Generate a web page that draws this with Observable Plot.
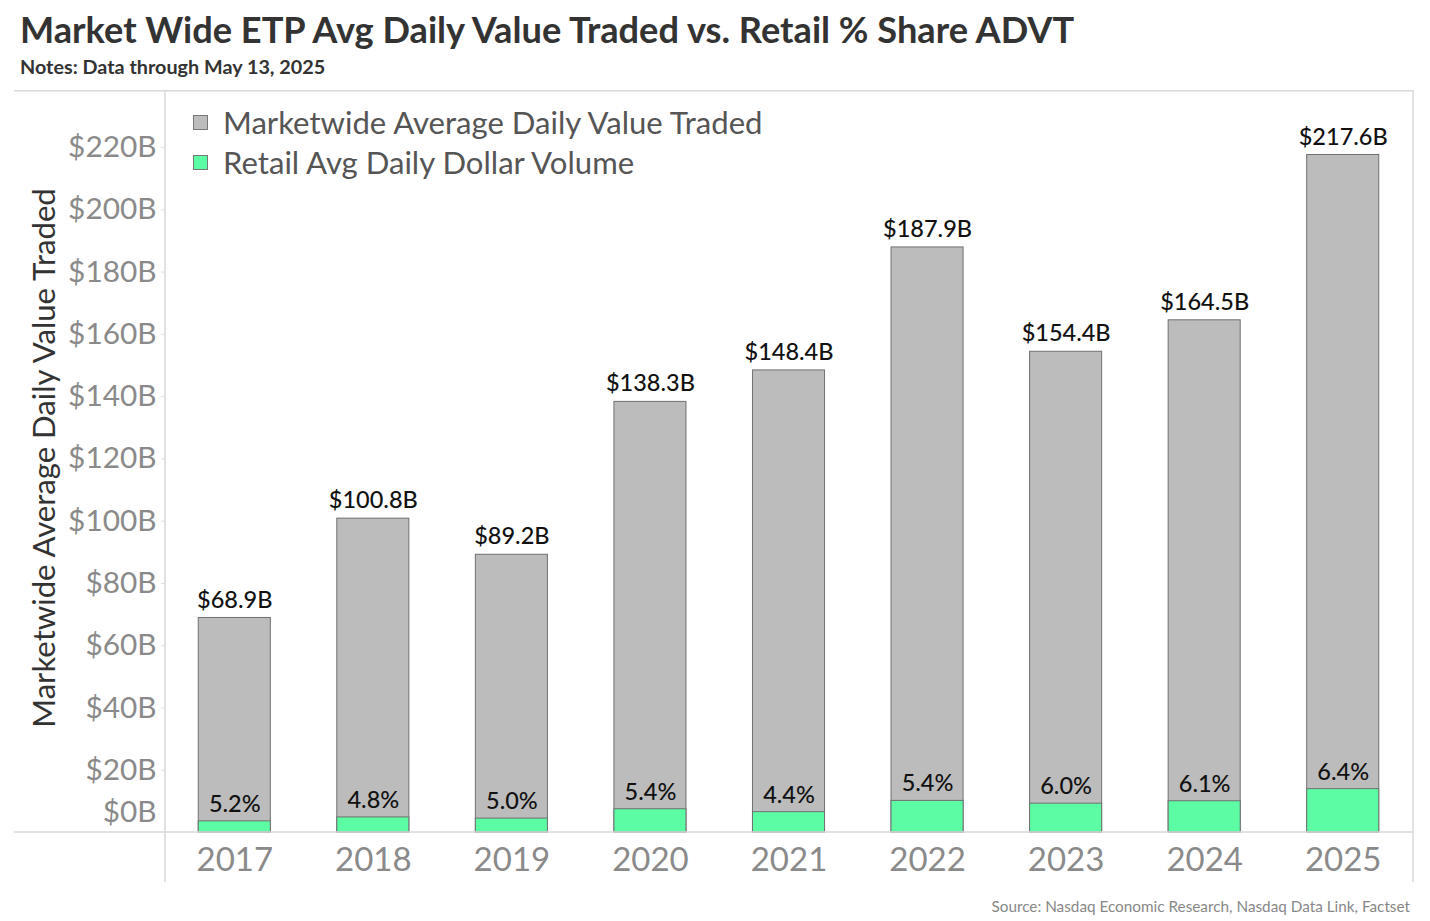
<!DOCTYPE html>
<html>
<head>
<meta charset="utf-8">
<script src="https://cdn.jsdelivr.net/npm/d3@7"></script>
<script src="https://cdn.jsdelivr.net/npm/@observablehq/plot@0.6"></script>
<style>
  body { margin: 0; background: #fff; font-family: Lato, sans-serif; }
  #wrap { position: relative; width: 1430px; height: 921px; overflow: hidden; }
  #title { position: absolute; left: 20px; top: 7px; font: bold 36.2px Lato, sans-serif; color: #333; white-space: nowrap; }
  #sub { position: absolute; left: 20px; top: 54px; font: bold 19.8px Lato, sans-serif; color: #333; white-space: nowrap; }
  #chart { position: absolute; left: 0; top: 90px; }
  .leg { position: absolute; left: 193px; font: 31.1px Lato, sans-serif; color: #555; white-space: nowrap; display: flex; align-items: center; }
  .sw { width: 13px; height: 13px; border: 1px solid #777; margin-right: 15px; }
  #src { position: absolute; right: 20px; top: 897px; font: 15.3px Lato, sans-serif; color: #888; }
</style>
</head>
<body>
<div id="wrap">
  <div id="title">Market Wide ETP Avg Daily Value Traded vs. Retail % Share ADVT</div>
  <div id="sub">Notes: Data through May 13, 2025</div>
  <div id="chart"></div>
  <div class="leg" style="top:103px"><div class="sw" style="background:#bcbcbc"></div>Marketwide Average Daily Value Traded</div>
  <div class="leg" style="top:143px"><div class="sw" style="background:#5cfca4"></div>Retail Avg Daily Dollar Volume</div>
  <div id="src">Source: Nasdaq Economic Research, Nasdaq Data Link, Factset</div>
</div>
<script>
const years = ["2017","2018","2019","2020","2021","2022","2023","2024","2025"];
const totals = [68.9, 100.8, 89.2, 138.3, 148.4, 187.9, 154.4, 164.5, 217.6];
const shares = [5.2, 4.8, 5.0, 5.4, 4.4, 5.4, 6.0, 6.1, 6.4];
const yTicks = [0, 20, 40, 60, 80, 100, 120, 140, 160, 180, 200, 220];

const data = years.map((year, i) => ({
  year, total: totals[i], share: shares[i], retail: totals[i] * shares[i] / 100
}));

const W = 1430, H = 831;
const plot = Plot.plot({
  width: W, height: H,
  marginLeft: 165, marginRight: 18, marginTop: 57, marginBottom: 89,
  style: { fontFamily: "Lato, sans-serif", background: "transparent", overflow: "visible" },
  x: { type: "band", domain: years, paddingInner: 0.48, paddingOuter: 0.24, round: false, axis: null },
  y: { domain: [0, 220], axis: null },
  marks: [
    Plot.barY(data, { x: "year", y: "total", fill: "#bcbcbc", stroke: "#707070", strokeWidth: 1 }),
    Plot.barY(data, { x: "year", y: "retail", fill: "#5cfca4", stroke: "#707070", strokeWidth: 1 }),
    Plot.text(data, { x: "year", y: "total", text: d => `$${d.total.toFixed(1)}B`, dy: -18, fontSize: 23.5, fontWeight: 500, fill: "#111", lineAnchor: "middle" }),
    Plot.text(data, { x: "year", y: "retail", text: d => `${d.share.toFixed(1)}%`, dy: -17, fontSize: 23.5, fontWeight: 500, fill: "#111", lineAnchor: "middle" }),
    Plot.axisY({ ticks: yTicks.filter(t => t > 0), tickFormat: d => `$${d}B`, tickSize: 4, tickPadding: 5, fontSize: 29.8, fill: "#8a8a8a", stroke: "#e0e0e0", label: null }),
    Plot.axisY({ ticks: [0], tickFormat: d => `$${d}B`, tickSize: 0, tickPadding: 9, dy: -20, fontSize: 29.8, fill: "#8a8a8a", label: null }),
    Plot.axisX({ tickSize: 0, tickPadding: 15, fontSize: 33, fill: "#8a8a8a", label: null })
  ]
});
document.getElementById("chart").appendChild(plot);

// frame / decoration lines
const svg = d3.select(plot);
const g = svg.append("g").attr("stroke", "#d9d9d9").attr("stroke-width", 1.5);
g.append("line").attr("x1", 14).attr("x2", 1413).attr("y1", 0.75).attr("y2", 0.75);
g.append("line").attr("x1", 165).attr("x2", 165).attr("y1", 0).attr("y2", 792);
g.append("line").attr("x1", 1413).attr("x2", 1413).attr("y1", 0).attr("y2", 792);
g.append("line").attr("x1", 14).attr("x2", 1413).attr("y1", 742).attr("y2", 742);

// y-axis title
svg.append("text")
  .attr("transform", "translate(43,368) rotate(-90)")
  .attr("text-anchor", "middle")
  .attr("dominant-baseline", "central")
  .attr("font-size", 31.1)
  .attr("font-family", "Lato, sans-serif")
  .attr("fill", "#333")
  .text("Marketwide Average Daily Value Traded");
</script>
</body>
</html>
